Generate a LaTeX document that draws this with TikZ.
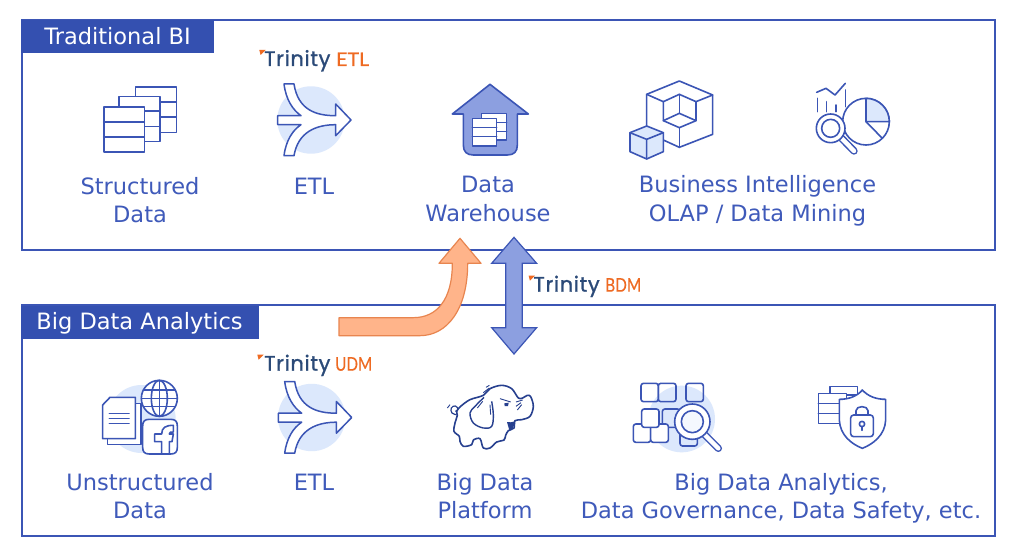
\documentclass[tikz,border=0pt]{standalone}
\usepackage{fontspec}
\usepackage{graphicx}
\setmainfont{DejaVu Sans}
\newfontfamily\logofont[FakeBold=1,LetterSpace=3]{Poppins}
\newfontfamily\logolight[FakeBold=.3]{Lato}
\definecolor{blu}{HTML}{3B55B5}
\definecolor{txt}{HTML}{3F5ABA}
\definecolor{tabc}{HTML}{3450B0}
\definecolor{midb}{HTML}{8C9FE0}
\definecolor{pale}{HTML}{DCE8FC}
\definecolor{orf}{HTML}{FFB48A}
\definecolor{ors}{HTML}{E8854F}
\definecolor{navy}{HTML}{2B4A78}
\definecolor{ora}{HTML}{EE6A22}
\definecolor{eleph}{HTML}{27408F}
\tikzset{
  lab/.style={text=txt,font=\fontsize{22.5}{22}\selectfont,anchor=base,inner sep=0pt},
  tabtxt/.style={text=white,font=\fontsize{22.5}{22}\selectfont,anchor=base,inner sep=0pt},
  ico/.style={draw=blu,line width=1.6pt,line join=round,line cap=round},
  frame/.style={draw=blu,line width=1.3pt},
  tabbox/.style={fill=tabc,draw=tabc,line width=.5pt},
  zoomed/.style={x=.33333pt,y=-.33333pt},
}
\newcommand{\tbl}[6]{\draw[ico,fill=white] (#1,#2) rectangle (#3,#4) (#1,#5) -- (#3,#5) (#1,#6) -- (#3,#6);}
\newcommand{\etlicon}[2]{%
 \begin{scope}[shift={(#1,#2)}]
  \fill[pale] (0,0) circle (33.7pt);
  \draw[ico,fill=white,line width=1.5pt] (40,0) -- (24.7,-16) -- (24.7,-4.3)
    .. controls (5,-4.3) and (-13,-10) .. (-17,-36) -- (-27,-36)
    .. controls (-25,-20) and (-18,-10) .. (-10,-4.3) -- (-33.3,-4.3) -- (-33.3,4.7) -- (-10,4.7)
    .. controls (-18,10) and (-25,20) .. (-27,35.7) -- (-17,35.7)
    .. controls (-13,12) and (5,4.7) .. (24.7,4.7) -- (24.7,15.7) -- cycle;
 \end{scope}}
\newcommand{\trinity}[7]{% name, x of T, baseline, suffix, suffix x, tick shift, suffix width
  \fill[ora] ({#2-4.7-#6},{#3-16}) -- ({#2+1.6-#6},{#3-16}) -- ({#2-3.4-#6},{#3-11}) -- cycle;
  \node[anchor=base west,inner sep=0pt,text=navy,font=\logofont\fontsize{21}{20}\selectfont] (#1a) at (#2,#3) {Trinity};
  \node[anchor=base west,inner sep=0pt,text=ora,font=\logolight\fontsize{20}{20}\selectfont] (#1b) at (#5,#3) {\resizebox{#7pt}{13.5pt}{#4}};}
\begin{document}
\begin{tikzpicture}[x=1pt,y=-1pt]
\useasboundingbox (0,0) rectangle (1011,556);
\fill[white] (0,0) rectangle (1011,556);
\draw[frame] (22,20) rectangle (995,250);
\draw[frame] (22,305) rectangle (995,536);
\fill[tabbox] (21,20) rectangle (213,52);
\fill[tabbox] (21,306) rectangle (258,338);
\node[tabtxt] (t1) at (117.5,44.5) {Traditional BI};
\node[tabtxt] (t2) at (139.5,329.5) {Big Data Analytics};
\tbl{135.3}{87.3}{176.3}{132.7}{102.3}{117.3}
\tbl{119}{96.7}{160}{141.7}{111}{126.7}
\tbl{103.7}{107.3}{144.3}{152.3}{122.3}{137.3}
\etlicon{311}{120}
\etlicon{311.7}{417.5}
\trinity{lga}{264}{66}{ETL}{336}{0}{33}
\trinity{lgb}{264}{370.7}{UDM}{335}{2}{37}
\trinity{lgc}{533.3}{291.7}{BDM}{605}{0}{36}
\begin{scope}[shift={(400,50)},zoomed]
 \draw[ico,fill=midb] (270,103) -- (157,192) -- (190,192) -- (190,285) .. controls (190,305) and (200,315) .. (220,315)
   -- (322,315) .. controls (342,315) and (352,305) .. (352,285) -- (352,192) -- (385,192) -- cycle;
 \tbl{245}{190}{320}{270}{217}{244}
 \tbl{217}{206}{290}{288}{233}{260}
 \draw[ico] (740,235) -- (740,133) -- (838,93) -- (938,135) -- (938,253) -- (838,292) -- (790,270);
 \draw[ico] (740,133) -- (790,155) -- (838,133) -- (888,155) -- (938,135);
 \draw[ico] (790,155) -- (790,212) -- (838,190) -- (888,212) -- (888,155);
 \draw[ico] (838,133) -- (838,190);
 \draw[ico] (790,212) -- (838,233) -- (888,212);
 \draw[ico] (838,233) -- (838,292);
 \draw[ico,fill=pale] (690,248) -- (740,228) -- (790,248) -- (790,305) -- (740,327) -- (690,305) -- cycle;
 \draw[ico] (690,248) -- (740,268) -- (790,248) (740,268) -- (740,327);
 \draw[ico,fill=white] (1398,215) circle[radius=70];
 \draw[ico,fill=pale] (1398,215) -- (1398,145) arc[start angle=-90,end angle=0,radius=70] -- cycle;
 \draw[ico] (1398,215) -- (1447,265);
 \draw[ico] (1252,145) -- (1252,185) (1280,155) -- (1280,185) (1308,165) -- (1308,185) (1336,120) -- (1336,170);
 \draw[ico] (1250,127) -- (1278,115) -- (1305,135) -- (1336,100);
 \draw[ico,line width=7.4pt,line cap=round] (1325,265) -- (1362,303);
 \draw[white,line width=4.4pt,line cap=round] (1325,265) -- (1362,303);
 \draw[ico,fill=white] (1292,235) circle[radius=43];
 \draw[ico] (1292,235) circle[radius=27];
\end{scope}
\begin{scope}[shift={(60,340)},zoomed]
 \fill[pale] (245,237) circle[radius=102];
 \draw[ico,fill=white] (143,190) rectangle (243,313);
 \draw[ico,fill=white] (128,195) -- (150,172) -- (226,172) -- (226,296) -- (128,296) -- cycle;
 \draw[ico] (148,220) -- (207,220) (148,235) -- (207,235) (148,250) -- (207,250);
 \draw[ico,fill=white] (298,175) circle[radius=54];
 \draw[ico] (298,175) ellipse[x radius=24,y radius=54];
 \draw[ico] (298,121) -- (298,229) (244,175) -- (352,175) (250,150) -- (346,150) (250,200) -- (346,200);
 \draw[ico,fill=white] (248,258) .. controls (248,244) and (254,238) .. (268,238) -- (332,238)
   .. controls (346,238) and (352,244) .. (352,258) -- (352,322) .. controls (352,336) and (346,342) .. (332,342)
   -- (268,342) .. controls (254,342) and (248,336) .. (248,322) -- cycle;
 \draw[ico] (305,342) -- (305,305) -- (284,305) -- (284,282) -- (305,282) .. controls (305,262) and (318,256) .. (340,256)
   -- (340,276) .. controls (332,276) and (328,276) .. (328,282) -- (340,282) -- (336,305) -- (328,305) -- (328,342);
\end{scope}
\begin{scope}[shift={(440,378)},zoomed]
 \draw[draw=eleph,line width=1.6pt,fill=white,line join=round] plot[smooth cycle,tension=.55] coordinates {
   (130,52) (150,32) (185,22) (215,32) (235,60) (248,60) (262,52) (272,56) (280,85) (270,115) (245,125) (225,128)
   (222,150) (205,158) (197,172) (192,186) (170,192) (150,210) (130,210) (120,182) (100,186) (95,200) (70,205)
   (60,190) (58,175) (42,160) (45,135) (52,112) (50,100) (62,85) (90,65)};
 \draw[draw=eleph,line width=1.4pt,fill=white] plot[smooth,tension=.6] coordinates {(132,58) (105,85) (90,105) (100,135) (130,150) (155,145) (160,110) (155,70)};
 \draw[draw=eleph,line width=1.2pt] plot[smooth,tension=.8] coordinates {(50,110) (36,105) (34,90) (46,84) (54,94) (46,100)};
 \fill[eleph] (193,76) -- (206,74) -- (204,84) -- (194,84) -- cycle;
 \fill[eleph] (201,132) .. controls (208,135) and (218,132) .. (225,130) .. controls (225,145) and (215,155) .. (208,157) -- cycle;
 \draw[draw=eleph,line width=.9pt] (228,72) -- (248,66) (228,85) -- (243,74) (232,96) -- (245,80)
   (180,62) -- (212,72) (130,44) -- (148,30) (138,28) -- (148,22) (22,90) -- (30,80) (112,90) -- (128,70) (150,80) -- (152,110);
\end{scope}
\begin{scope}[shift={(430,340)},zoomed]
 \fill[pale] (755,237) circle[radius=100];
 \tikzset{rb/.style={ico,rounded corners=2.5pt}}
 \draw[rb] (633,130) rectangle (685,185);
 \draw[rb] (685,130) rectangle (738,185);
 \draw[rb] (768,130) rectangle (820,185);
 \draw[rb] (697,207) rectangle (750,262);
 \draw[rb] (750,265) rectangle (802,318);
 \draw[rb,fill=white] (610,252) rectangle (662,307);
 \draw[rb,fill=white] (662,252) rectangle (715,307);
 \draw[rb,fill=white] (635,207) rectangle (687,262);
 \draw[ico,line width=7.4pt] (825,285) -- (865,325);
 \draw[white,line width=4.4pt,line cap=round] (825,285) -- (865,325);
 \draw[ico,fill=white] (787,245) circle[radius=53];
 \draw[ico,fill=pale!30] (787,245) circle[radius=33];
 \tbl{1200}{140}{1282}{190}{165}{165}
 \tbl{1165}{160}{1250}{250}{190}{220}
 \draw[ico,fill=white] (1297,150) .. controls (1315,170) and (1340,178) .. (1367,178) -- (1367,240)
   .. controls (1365,285) and (1330,312) .. (1297,325) .. controls (1264,312) and (1230,285) .. (1228,240)
   -- (1228,178) .. controls (1255,178) and (1280,170) .. (1297,150) -- cycle;
 \draw[ico,rounded corners=3pt] (1262,225) rectangle (1330,290);
 \draw[ico] (1278,225) -- (1278,212) .. controls (1278,196) and (1314,196) .. (1314,212) -- (1314,225);
 \draw[ico] (1296,252) circle[radius=8];
 \draw[ico] (1296,260) -- (1296,271);
\end{scope}
\begin{scope}[shift={(330,230)},zoomed]
 \draw[draw=ors,fill=orf,line width=1.2pt,line join=round] (27,263) -- (250,263)
   .. controls (320,263) and (367,210) .. (367,100) -- (327,100) -- (390,25) -- (453,100) -- (413,100)
   .. controls (413,240) and (350,317) .. (270,317) -- (27,317) -- cycle;
 \draw[draw=blu,fill=midb,line width=1.2pt,line join=miter] (552,22) -- (485,100) -- (527,100) -- (527,293)
   -- (485,293) -- (552,372) -- (620,293) -- (577,293) -- (577,100) -- (620,100) -- cycle;
\end{scope}
\node[lab] (a1) at (140,194) {Structured};
\node[lab] (a2) at (140,222) {Data};
\node[lab] (b1) at (314,194) {ETL};
\node[lab] (c1) at (488,193) {Data};
\node[lab] (c2) at (488,221.5) {Warehouse};
\node[lab] (d1) at (757.5,193) {Business Intelligence};
\node[lab] (d2) at (757.5,221.5) {OLAP / Data Mining};
\node[lab] (e1) at (140,490) {Unstructured};
\node[lab] (e2) at (140,518) {Data};
\node[lab] (f1) at (314,490) {ETL};
\node[lab] (g1) at (485,490) {Big Data};
\node[lab] (g2) at (485,518) {Platform};
\node[lab] (h1) at (781,490) {Big Data Analytics,};
\node[lab] (h2) at (781,518) {Data Governance, Data Safety, etc.};
\end{tikzpicture}
\end{document}
